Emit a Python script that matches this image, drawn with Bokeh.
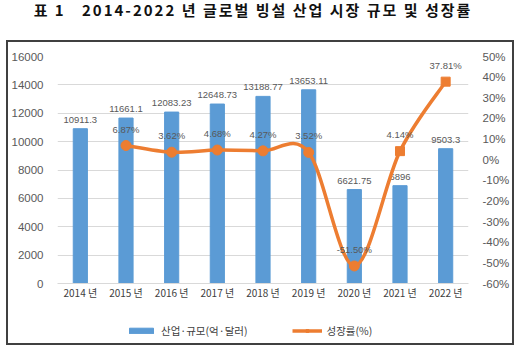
import numpy as np
from bokeh.plotting import figure
from bokeh.models import (Range1d, LinearAxis, ColumnDataSource, Legend, LegendItem, Div)
from bokeh.layouts import column
from bokeh.core.properties import value
from bokeh.embed import file_html
from bokeh.resources import INLINE

years = ["2014 년", "2015 년", "2016 년", "2017 년", "2018 년", "2019 년", "2020 년", "2021 년", "2022 년"]
size = [10911.3, 11661.1, 12083.23, 12648.73, 13188.77, 13653.11, 6621.75, 6896, 9503.3]
size_labels = ["10911.3", "11661.1", "12083.23", "12648.73", "13188.77", "13653.11", "6621.75", "6896", "9503.3"]
growth_years_idx = [1, 2, 3, 4, 5, 6, 7, 8]
growth = [6.87, 3.62, 4.68, 4.27, 3.52, -51.50, 4.14, 37.81]
growth_labels = ["6.87%", "3.62%", "4.68%", "4.27%", "3.52%", "-51.50%", "4.14%", "37.81%"]
y_ticks = [0, 2000, 4000, 6000, 8000, 10000, 12000, 14000, 16000]
pct_ticks = [-60, -50, -40, -30, -20, -10, 0, 10, 20, 30, 40, 50]
title_text = "표 1&nbsp;&nbsp;&nbsp;2014-2022 년 글로벌 빙설 산업 시장 규모 및 성장률"
legend_labels = ["산업·규모(억·달러)", "성장률(%)"]

BLUE = "#5B9BD5"
ORANGE = "#ED7D31"
FONT = "Noto Sans CJK KR"
LABEL_FONT = "Liberation Sans"

title = Div(text=title_text, width=518, height=40, margin=0,
            styles={"font-family": FONT, "font-weight": "bold", "font-size": "15px",
                    "letter-spacing": "2px", "color": "#111111",
                    "text-align": "center", "line-height": "20px",
                    "width": "512px", "padding-right": "6px"})

p = figure(width=504, height=267, output_backend="svg", toolbar_location=None,
           x_range=Range1d(-0.5, 8.5), y_range=Range1d(0, 16000),
           min_border_left=42, min_border_right=42, min_border_top=14,
           min_border_bottom=26, margin=0)
p.title.text = ""
p.extra_y_ranges = {"pct": Range1d(-60, 50)}
p.outline_line_color = None
p.xgrid.grid_line_color = None
p.ygrid.grid_line_color = "#D9D9D9"
p.ygrid.ticker = y_ticks

# bars
src = ColumnDataSource(dict(x=list(range(len(years))), top=size, lab=size_labels))
p.vbar(x="x", top="top", width=0.31, source=src, color=BLUE)
p.text(x="x", y="top", text="lab", source=src, text_align="center",
       text_baseline="bottom", y_offset=-6, text_font_size="9.5px",
       text_color="#595959", text_font=value(LABEL_FONT))

# smooth line (Catmull-Rom style bezier through data points)
gx = np.array(growth_years_idx, dtype=float)
gy = np.array(growth, dtype=float)
n = len(gx)
px = np.concatenate([[gx[0]], gx, [gx[-1]]])
py = np.concatenate([[gy[0]], gy, [gy[-1]]])
bz = dict(x0=[], y0=[], x1=[], y1=[], cx0=[], cy0=[], cx1=[], cy1=[])
for i in range(n - 1):
    j = i + 1
    bz["x0"].append(px[j]); bz["y0"].append(py[j])
    bz["x1"].append(px[j + 1]); bz["y1"].append(py[j + 1])
    bz["cx0"].append(px[j] + (px[j + 1] - px[j - 1]) / 6)
    bz["cy0"].append(py[j] + (py[j + 1] - py[j - 1]) / 6)
    bz["cx1"].append(px[j + 1] - (px[j + 2] - px[j]) / 6)
    bz["cy1"].append(py[j + 1] - (py[j + 2] - py[j]) / 6)
p.bezier(source=ColumnDataSource(bz), x0="x0", y0="y0", x1="x1", y1="y1",
         cx0="cx0", cy0="cy0", cx1="cx1", cy1="cy1",
         line_color=ORANGE, line_width=3.5, y_range_name="pct")

circ = ColumnDataSource(dict(x=growth_years_idx[:6], y=growth[:6]))
sq = ColumnDataSource(dict(x=growth_years_idx[6:], y=growth[6:]))
p.scatter(x="x", y="y", source=circ, marker="circle", size=10, color=ORANGE, y_range_name="pct")
p.scatter(x="x", y="y", source=sq, marker="square", size=9, color=ORANGE, y_range_name="pct")
lsrc = ColumnDataSource(dict(x=growth_years_idx, y=growth, lab=growth_labels))
p.text(x="x", y="y", text="lab", source=lsrc, y_range_name="pct", text_align="center",
       text_baseline="bottom", y_offset=-11, text_font_size="9.5px",
       text_color="#595959", text_font=value(LABEL_FONT))

# axes
ax = p.yaxis[0]
ax.ticker = y_ticks
ax.axis_line_color = None
ax.major_tick_line_color = None
ax.minor_tick_line_color = None
ax.major_label_standoff = 8
ax.major_label_text_font = LABEL_FONT
ax.major_label_text_font_size = "11.5px"
ax.major_label_text_color = "#595959"

ra = LinearAxis(y_range_name="pct", ticker=pct_ticks)
ra.major_label_overrides = {t: f"{t}%" for t in pct_ticks}
ra.axis_line_color = None
ra.major_tick_line_color = None
ra.minor_tick_line_color = None
ra.major_label_standoff = 8
ra.major_label_text_font = LABEL_FONT
ra.major_label_text_font_size = "11.5px"
ra.major_label_text_color = "#595959"
p.add_layout(ra, "right")

xa = p.xaxis[0]
xa.ticker = list(range(len(years)))
xa.major_label_overrides = {i: y for i, y in enumerate(years)}
xa.axis_line_color = "#D9D9D9"
xa.major_tick_line_color = None
xa.minor_tick_line_color = None
xa.major_label_standoff = -5
xa.major_label_text_font = FONT
xa.major_label_text_font_size = "10px"
xa.major_label_text_color = "#404040"

# legend figure (legend swatches come from off-screen proxy renderers)
lf = figure(width=504, height=34, output_backend="svg", toolbar_location=None,
            x_range=Range1d(0, 1), y_range=Range1d(0, 1), min_border=0, margin=0)
lf.title.text = ""
lf.axis.visible = False
lf.grid.visible = False
lf.outline_line_color = None
lb = lf.vbar(x=[-5], top=[-5], width=0.3, color=BLUE)
ll = lf.line(x=[-5, -4], y=[-5, -5], line_color=ORANGE, line_width=3.5)
ls = lf.scatter(x=[-5], y=[-5], marker="square", size=7, color=ORANGE)
legend = Legend(items=[LegendItem(label=legend_labels[0], renderers=[lb]),
                       LegendItem(label=legend_labels[1], renderers=[ll, ls])],
                orientation="horizontal", location=(69, 5), spacing=44,
                label_text_font=FONT, label_text_font_size="10.5px",
                label_text_color="#404040", glyph_width=30, glyph_height=7,
                border_line_color=None, background_fill_alpha=0,
                padding=2, margin=0, label_standoff=5)
lf.add_layout(legend)

box = column(p, lf, spacing=0, margin=(0, 0, 0, 6),
             styles={"border": "2px solid #404040"})
layout = column(title, box, spacing=0)
open("out.html", "w").write(file_html(layout, INLINE))
